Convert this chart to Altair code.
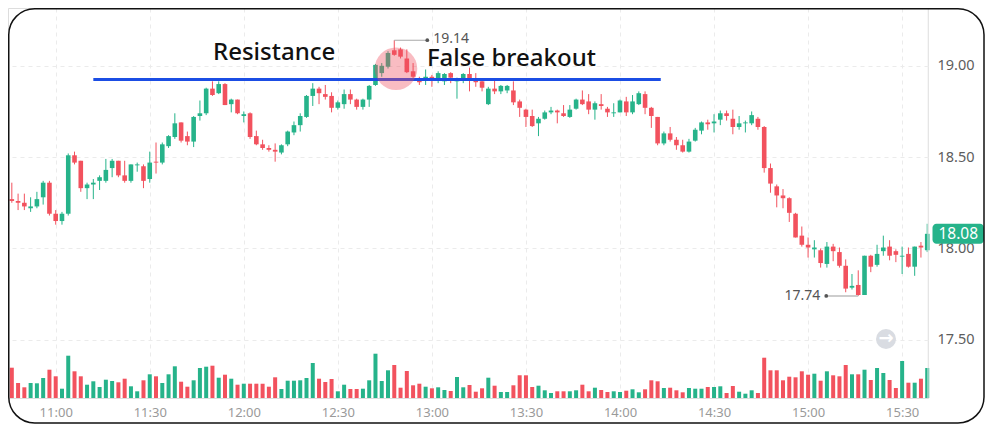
import altair as alt
import pandas as pd

# ---- data (2-minute candles, 10:46 .. 15:38) ----
opens = [18.27, 18.26, 18.25, 18.22, 18.23, 18.28, 18.36, 18.19, 18.15, 18.19,
         18.51, 18.48, 18.33, 18.35, 18.37, 18.37, 18.44, 18.48, 18.40, 18.37,
         18.455, 18.45, 18.38, 18.475, 18.47, 18.56, 18.61, 18.69, 18.615, 18.585,
         18.725, 18.74, 18.875, 18.85, 18.90, 18.79, 18.815, 18.725, 18.74, 18.615,
         18.57, 18.55, 18.54, 18.525, 18.57, 18.635, 18.675, 18.72, 18.835, 18.875,
         18.845, 18.835, 18.77, 18.79, 18.845, 18.815, 18.775, 18.815, 18.895, 18.96,
         18.995, 19.085, 19.09, 19.04, 18.97, 18.93, 18.925, 18.94, 18.925, 18.915,
         18.96, 18.915, 18.93, 18.955, 18.925, 18.915, 18.79, 18.875, 18.86, 18.865,
         18.865, 18.805, 18.76, 18.725, 18.685, 18.71, 18.745, 18.755, 18.74, 18.72,
         18.765, 18.815, 18.805, 18.76, 18.79, 18.765, 18.74, 18.745, 18.805, 18.745,
         18.79, 18.845, 18.77, 18.72, 18.575, 18.63, 18.595, 18.565, 18.53, 18.59,
         18.645, 18.69, 18.685, 18.705, 18.74, 18.71, 18.665, 18.685, 18.685, 18.71,
         18.665, 18.44, 18.34, 18.29, 18.275, 18.19, 18.07, 18.02, 17.995, 17.99,
         17.915, 18.01, 17.98, 17.905, 17.785, 17.80, 17.745, 17.96, 17.91, 17.985,
         18.01, 17.985, 17.955, 17.97, 17.90, 18.015, 17.99]
highs = [18.36, 18.30, 18.30, 18.28, 18.31, 18.37, 18.37, 18.21, 18.20, 18.52,
         18.53, 18.48, 18.36, 18.38, 18.40, 18.49, 18.49, 18.48, 18.48, 18.46,
         18.47, 18.46, 18.53, 18.58, 18.58, 18.62, 18.74, 18.69, 18.64, 18.725,
         18.81, 18.88, 18.915, 18.915, 18.905, 18.82, 18.815, 18.75, 18.745, 18.645,
         18.595, 18.565, 18.575, 18.57, 18.645, 18.695, 18.74, 18.84, 18.905, 18.885,
         18.895, 18.855, 18.81, 18.87, 18.87, 18.82, 18.82, 18.895, 19.01, 19.015,
         19.08, 19.14, 19.10, 19.09, 19.015, 18.94, 18.98, 18.95, 18.97, 18.96,
         18.965, 18.935, 18.96, 18.99, 18.96, 18.925, 18.885, 18.925, 18.895, 18.895,
         18.915, 18.815, 18.765, 18.76, 18.72, 18.755, 18.775, 18.76, 18.785, 18.785,
         18.82, 18.865, 18.845, 18.805, 18.845, 18.775, 18.795, 18.815, 18.83, 18.84,
         18.86, 18.86, 18.775, 18.72, 18.64, 18.665, 18.61, 18.595, 18.60, 18.66,
         18.695, 18.705, 18.735, 18.755, 18.755, 18.76, 18.725, 18.70, 18.75, 18.72,
         18.67, 18.465, 18.35, 18.325, 18.28, 18.195, 18.12, 18.06, 18.045, 18.00,
         18.035, 18.025, 18.005, 17.94, 17.86, 17.88, 17.96, 17.965, 18.02, 18.07,
         18.045, 17.995, 18.01, 18.005, 18.01, 18.035, 18.135]
lows = [18.25, 18.21, 18.21, 18.20, 18.22, 18.24, 18.18, 18.13, 18.13, 18.18,
        18.46, 18.31, 18.27, 18.27, 18.32, 18.36, 18.39, 18.39, 18.36, 18.36,
        18.42, 18.33, 18.36, 18.41, 18.46, 18.55, 18.60, 18.58, 18.565, 18.555,
        18.70, 18.73, 18.835, 18.845, 18.785, 18.745, 18.735, 18.69, 18.60, 18.565,
        18.54, 18.53, 18.475, 18.515, 18.56, 18.62, 18.64, 18.715, 18.78, 18.79,
        18.815, 18.745, 18.76, 18.765, 18.79, 18.76, 18.76, 18.775, 18.89, 18.94,
        18.985, 19.055, 19.04, 18.96, 18.93, 18.895, 18.895, 18.885, 18.905, 18.895,
        18.905, 18.82, 18.905, 18.86, 18.885, 18.86, 18.785, 18.845, 18.845, 18.85,
        18.785, 18.72, 18.665, 18.665, 18.615, 18.705, 18.735, 18.685, 18.72, 18.715,
        18.76, 18.785, 18.735, 18.705, 18.76, 18.72, 18.72, 18.745, 18.725, 18.735,
        18.785, 18.735, 18.66, 18.565, 18.565, 18.585, 18.54, 18.525, 18.525, 18.585,
        18.625, 18.65, 18.635, 18.675, 18.70, 18.625, 18.65, 18.635, 18.675, 18.65,
        18.415, 18.305, 18.225, 18.22, 18.145, 18.06, 18.01, 17.95, 17.95, 17.895,
        17.895, 17.93, 17.895, 17.76, 17.775, 17.74, 17.745, 17.87, 17.90, 17.96,
        17.935, 17.925, 17.86, 17.895, 17.85, 17.95, 17.98]
closes = [18.26, 18.25, 18.23, 18.23, 18.27, 18.36, 18.19, 18.15, 18.19, 18.51,
          18.47, 18.33, 18.35, 18.36, 18.39, 18.43, 18.48, 18.40, 18.37, 18.46,
          18.46, 18.37, 18.47, 18.47, 18.57, 18.615, 18.685, 18.59, 18.585, 18.72,
          18.74, 18.875, 18.84, 18.90, 18.785, 18.815, 18.74, 18.735, 18.61, 18.57,
          18.55, 18.54, 18.53, 18.565, 18.64, 18.675, 18.725, 18.835, 18.875, 18.85,
          18.83, 18.77, 18.80, 18.845, 18.815, 18.775, 18.815, 18.89, 19.005, 19.00,
          19.07, 19.06, 19.05, 18.965, 18.94, 18.91, 18.94, 18.92, 18.96, 18.955,
          18.935, 18.925, 18.955, 18.925, 18.91, 18.88, 18.875, 18.86, 18.89, 18.89,
          18.80, 18.77, 18.72, 18.67, 18.71, 18.745, 18.755, 18.745, 18.725, 18.76,
          18.815, 18.79, 18.76, 18.795, 18.78, 18.745, 18.745, 18.81, 18.745, 18.805,
          18.85, 18.77, 18.725, 18.575, 18.63, 18.595, 18.565, 18.53, 18.585, 18.65,
          18.69, 18.68, 18.695, 18.74, 18.725, 18.665, 18.685, 18.69, 18.73, 18.665,
          18.44, 18.355, 18.29, 18.275, 18.195, 18.06, 18.02, 18.005, 18.005, 17.92,
          18.01, 17.985, 17.905, 17.78, 17.795, 17.745, 17.96, 17.90, 17.97, 18.005,
          17.96, 17.965, 17.96, 17.90, 18.01, 18.005, 18.08]
volumes = [303, 150, 107, 150, 147, 200, 283, 217, 93, 423,
           267, 217, 133, 167, 110, 183, 170, 157, 193, 117,
           67, 177, 237, 217, 150, 237, 317, 163, 113, 177,
           300, 313, 323, 203, 233, 193, 133, 143, 143, 143,
           143, 113, 207, 90, 173, 173, 177, 200, 350, 193,
           160, 190, 67, 133, 90, 90, 93, 177, 443, 170,
           277, 330, 103, 270, 127, 143, 113, 97, 107, 80,
           70, 210, 107, 130, 63, 97, 203, 123, 60, 60,
           127, 227, 227, 110, 123, 77, 50, 67, 67, 67,
           77, 133, 67, 103, 80, 60, 67, 60, 73, 87,
           57, 87, 177, 167, 100, 103, 77, 57, 100, 93,
           93, 110, 110, 117, 50, 120, 63, 43, 77, 50,
           403, 277, 277, 177, 213, 207, 267, 233, 243, 173,
           267, 227, 217, 330, 237, 237, 283, 180, 300, 250,
           180, 100, 370, 153, 153, 193, 300]

times = pd.date_range("2024-01-02 10:46", periods=len(opens), freq="2min").strftime("%Y-%m-%dT%H:%M:%S")

resistance_level = 18.925
resistance_span = ["2024-01-02T11:12:00", "2024-01-02T14:13:00"]
breakout_spot = ("2024-01-02T12:48:33", 18.984)
text_notes = [("Resistance", "2024-01-02T11:50:10", 19.032),
              ("False breakout", "2024-01-02T12:58:25", 18.999)]
price_ticks = [17.5, 18.0, 18.5, 19.0]
time_ticks = [(11, 0), (11, 30), (12, 0), (12, 30), (13, 0), (13, 30),
              (14, 0), (14, 30), (15, 0), (15, 30)]

G = "#26b38a"
R = "#f2525e"
FONT = "Noto Sans"

df = pd.DataFrame({"t": times, "open": opens, "high": highs, "low": lows,
                   "close": closes, "volume": volumes})
df["dir"] = ["up" if c >= o else "down" for o, c in zip(opens, closes)]

W, H = 920, 390
PAD_R, PAD_B = 57, 26

def dt(h, m, s=0):
    return alt.DateTime(year=2024, month=1, date=2, hours=h, minutes=m, seconds=s)

xscale = alt.Scale(domain=[dt(10, 44, 47), dt(15, 38, 15)], padding=0)
xaxis = alt.Axis(values=[dt(h, m) for h, m in time_ticks], format="%H:%M", title=None,
                 ticks=False, domain=False, grid=True, gridDash=[4, 4], gridColor="#ebebeb",
                 labelColor="#9a9a9a", labelFontSize=13, labelFont=FONT, labelPadding=8)
yscale = alt.Scale(domain=[17.181, 19.3165], nice=False, zero=False)
yaxis = alt.Axis(orient="right", values=price_ticks, format=".2f", title=None,
                 ticks=False, domain=False, grid=True, gridDash=[4, 4], gridColor="#ebebeb",
                 labelColor="#5d5d5d", labelFontSize=14.5, labelFont=FONT, labelPadding=9)
color = alt.Color("dir:N", scale=alt.Scale(domain=["up", "down"], range=[G, R]), legend=None)

def X(field):
    return alt.X(field, type="temporal", scale=xscale, axis=xaxis)

def Y(field):
    return alt.Y(field, type="quantitative", scale=yscale, axis=yaxis)

base = alt.Chart(df)

vol = base.mark_bar(size=4).encode(
    x=X("t"), y=alt.Y("volume:Q", scale=alt.Scale(domain=[0, 3900]), axis=None), color=color)

wicks = base.mark_rule(strokeWidth=1).encode(x=X("t"), y=Y("low"), y2="high:Q", color=color)
bodies = base.mark_bar(size=4.6).encode(x=X("t"), y=Y("open"), y2="close:Q", color=color)

res_df = pd.DataFrame({"t1": [resistance_span[0]], "t2": [resistance_span[1]], "level": [resistance_level]})
res_line = alt.Chart(res_df).mark_rule(strokeWidth=3, color="#1b4de4").encode(
    x=X("t1"), x2="t2:T", y=Y("level"))

circ_df = pd.DataFrame({"t": [breakout_spot[0]], "p": [breakout_spot[1]]})
circle = alt.Chart(circ_df).mark_circle(size=1810, color="#f04e5e", opacity=0.38).encode(
    x=X("t"), y=Y("p"))

notes_df = pd.DataFrame({"label": [n[0] for n in text_notes], "t": [n[1] for n in text_notes],
                         "p": [n[2] for n in text_notes]})
notes = alt.Chart(notes_df).mark_text(align="left", baseline="alphabetic", fontSize=24,
                                      fontWeight=500, font=FONT, color="#111111").encode(
    x=X("t"), y=Y("p"), text="label:N")

i_hi = highs.index(max(highs))
i_lo = lows.index(min(lows))
hi_df = pd.DataFrame({"t": [times[i_hi]], "p": [highs[i_hi]], "label": [f"{highs[i_hi]:.2f}"]})
lo_df = pd.DataFrame({"t": [times[i_lo]], "p": [lows[i_lo]], "label": [f"{lows[i_lo]:.2f}"]})

hi_line = alt.Chart(hi_df).mark_rule(color="#a8a8a8", strokeWidth=1.2, x2Offset=33).encode(
    x=X("t"), x2="t:T", y=Y("p"))
hi_dot = alt.Chart(hi_df).mark_point(filled=True, size=14, color="#555555", opacity=1, xOffset=33).encode(
    x=X("t"), y=Y("p"))
hi_txt = alt.Chart(hi_df).mark_text(align="left", baseline="middle", fontSize=14, font=FONT,
                                    color="#555555", xOffset=39, yOffset=-1).encode(
    x=X("t"), y=Y("p"), text="label:N")
lo_line = alt.Chart(lo_df).mark_rule(color="#bdbdbd", strokeWidth=1.5, x2Offset=-32).encode(
    x=X("t"), x2="t:T", y=Y("p"))
lo_dot = alt.Chart(lo_df).mark_point(filled=True, size=14, color="#555555", opacity=1, xOffset=-32).encode(
    x=X("t"), y=Y("p"))
lo_txt = alt.Chart(lo_df).mark_text(align="right", baseline="middle", fontSize=14, font=FONT,
                                    color="#555555", xOffset=-38).encode(x=X("t"), y=Y("p"), text="label:N")

last_df = pd.DataFrame({"p": [closes[-1]], "label": [f"{closes[-1]:.2f}"]})
last_box = alt.Chart(last_df).mark_rect(color=G, cornerRadius=4, yOffset=-10, y2Offset=10).encode(
    x=alt.value(924.5), x2=alt.value(976), y=Y("p"), y2="p:Q")
last_txt = alt.Chart(last_df).mark_text(color="white", fontSize=15.5, font=FONT, baseline="middle",
                                        align="center").encode(x=alt.value(950.3), y=Y("p"), text="label:N")

one = alt.Chart(pd.DataFrame({"k": [0]}))
sep = one.mark_rule(color="#eeeeee", strokeWidth=1).encode(x=alt.value(W), y=alt.value(0), y2=alt.value(H))
btn = one.mark_circle(size=400, color="#d9dce2", opacity=1).encode(x=alt.value(878), y=alt.value(331))
btn_arrow = one.mark_text(text="→", color="white", fontSize=18, fontWeight="bold", baseline="middle",
                          align="center", font="DejaVu Sans").encode(x=alt.value(878), y=alt.value(331))
frame = one.mark_rect(fill="transparent", stroke="#111111", strokeWidth=1.5, cornerRadius=26).encode(
    x=alt.value(0.75), x2=alt.value(W + PAD_R - 1), y=alt.value(0.75), y2=alt.value(H + PAD_B - 1))

price = alt.layer(wicks, bodies, res_line, circle, notes, hi_line, hi_dot, hi_txt,
                  lo_line, lo_dot, lo_txt, last_box, last_txt)

chart = alt.layer(vol, price, sep, btn, btn_arrow, frame).resolve_scale(y="independent").properties(
    width=W, height=H,
    autosize=alt.AutoSizeParams(type="none"),
    padding={"left": 0, "top": 0, "right": PAD_R, "bottom": PAD_B},
    background="white",
).configure_view(stroke="transparent").configure(font=FONT)

chart.save("out.html", embed_options={"renderer": "svg", "actions": False})
